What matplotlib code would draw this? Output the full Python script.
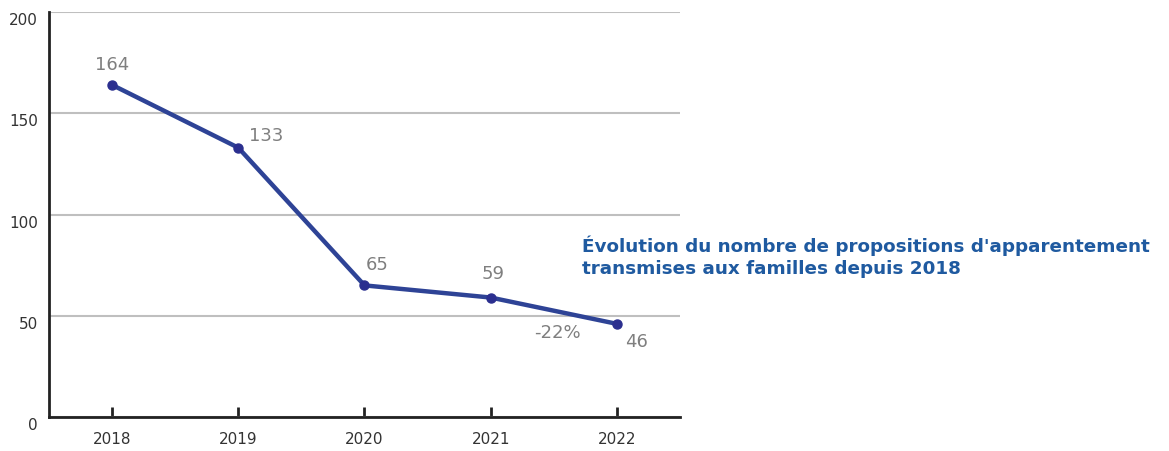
import numpy as np
import matplotlib
matplotlib.use('Agg')
import matplotlib.pyplot as plt

years = ['2018', '2019', '2020', '2021', '2022']
values = [164, 133, 65, 59, 46]
# label offsets in pixels (dx, dy) relative to each point
offsets = [(0, 21), (28, 13), (13, 21), (2, 25), (20, -17)]

title = "Évolution du nombre de propositions d'apparentement\ntransmises aux familles depuis 2018"

fig = plt.figure(figsize=(11.69, 4.52), dpi=100)
ax = fig.add_axes([0.0419, 0.0752, 0.5398, 0.896])

x = np.arange(len(years))
ax.plot(x, values, color='#2E4396', linewidth=3.2, marker='o',
        markersize=6.5, markerfacecolor='#2B2F8F', markeredgecolor='#2B2F8F', zorder=3)

for xi, v, (dx, dy) in zip(x, values, offsets):
    ax.annotate(str(v), (xi, v), xytext=(dx * 0.72, dy * 0.72), textcoords='offset points',
                ha='center', va='center', color='#7F7F7F', fontsize=13)

ax.annotate('-22%', (3.5, 52.5), xytext=(4 * 0.72, -21 * 0.72), textcoords='offset points',
            ha='center', va='center', color='#7F7F7F', fontsize=13)

ax.set_xlim(-0.5, 4.5)
ax.set_ylim(0, 200)
ax.set_xticks(x)
ax.set_xticklabels(years)
ax.set_yticks([0, 50, 100, 150, 200])
ax.yaxis.grid(True, color='#BFBFBF', linewidth=1.5)
ax.set_axisbelow(True)

for s in ['top', 'right']:
    ax.spines[s].set_visible(False)
ax.spines['left'].set_linewidth(2)
ax.spines['bottom'].set_linewidth(2)
ax.spines['left'].set_color('#222222')
ax.spines['bottom'].set_color('#222222')
ax.tick_params(axis='x', direction='in', length=7, width=2, color='#222222',
               labelsize=11, labelcolor='#333333', pad=10)
ax.tick_params(axis='y', length=0, labelsize=11, labelcolor='#333333', pad=8)
for lbl in ax.get_yticklabels():
    lbl.set_verticalalignment('top')

fig.text(582 / 1169, 1 - 236 / 452, title, ha='left', va='top', color='#1F5AA0',
         fontsize=13.2, fontweight='bold', linespacing=1.25)

fig.savefig('out.png', dpi=100)
